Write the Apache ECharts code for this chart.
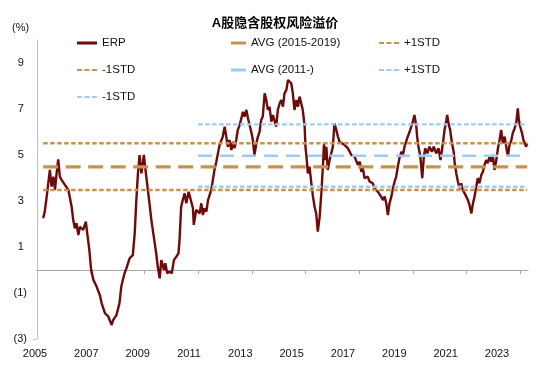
<!DOCTYPE html>
<html><head><meta charset="utf-8">
<script src="https://cdn.jsdelivr.net/npm/echarts@6/dist/echarts.min.js"></script>
<style>html,body{margin:0;padding:0;background:#fff}#c{width:550px;height:373px}</style>
</head><body><div id="c"></div>
<script>
// ---------- data ----------
const chartTitle = 'A股隐含股权风险溢价';
const yUnit = '(%)';
const yearLabels = ['2005','2007','2009','2011','2013','2015','2017','2019','2021','2023'];
const yTickValues = [-3,-1,1,3,5,7,9];
const xTickValues = [2007,2009,2011,2013,2015,2017,2019,2021,2023];
const legendLabels = ['ERP','AVG (2015-2019)','+1STD','-1STD','AVG (2011-)','+1STD','-1STD'];

const erpDates = [
2005.23,2005.29,2005.36,2005.42,2005.48,2005.54,2005.61,2005.67,2005.73,2005.79,2005.85,2005.92,
2006.04,2006.17,2006.23,2006.29,2006.35,2006.41,2006.47,2006.54,2006.60,2006.72,2006.82,2006.87,2006.95,
2007.01,2007.10,2007.22,2007.34,2007.41,2007.53,2007.66,2007.78,2007.84,2007.96,
2008.07,2008.14,2008.26,2008.33,2008.45,2008.57,2008.64,2008.70,2008.76,2008.82,2008.89,2008.98,
2009.07,2009.13,2009.19,2009.26,2009.35,2009.44,2009.50,2009.57,2009.63,2009.73,2009.78,2009.85,2009.94,
2010.02,2010.10,2010.19,2010.27,2010.31,2010.37,2010.43,2010.50,2010.56,2010.65,2010.72,2010.81,2010.84,2010.93,
2011.06,2011.12,2011.18,2011.24,2011.31,2011.37,2011.43,2011.49,2011.55,2011.61,2011.68,2011.74,2011.80,2011.86,2011.92,2011.99,
2012.05,2012.11,2012.17,2012.24,2012.30,2012.36,2012.42,2012.48,2012.55,2012.61,2012.67,2012.73,2012.80,2012.86,2012.92,2012.98,
2013.04,2013.10,2013.17,2013.23,2013.29,2013.35,2013.41,2013.48,2013.54,2013.60,2013.66,2013.73,2013.79,2013.85,2013.91,2013.97,
2014.04,2014.10,2014.16,2014.22,2014.29,2014.35,2014.41,2014.47,2014.53,2014.59,2014.66,2014.72,2014.78,2014.84,2014.90,2014.97,
2015.00,2015.05,2015.09,2015.15,2015.22,2015.28,2015.34,2015.40,2015.46,2015.53,2015.59,2015.65,2015.69,2015.74,2015.78,2015.83,2015.90,2015.96,
2016.02,2016.08,2016.15,2016.21,2016.27,2016.33,2016.46,2016.58,2016.71,2016.83,2016.95,
2017.02,2017.08,2017.14,2017.20,2017.32,2017.39,2017.51,2017.57,2017.70,2017.82,2017.88,2017.95,
2018.01,2018.07,2018.13,2018.20,2018.26,2018.32,2018.38,2018.44,2018.50,2018.57,2018.63,2018.69,2018.75,2018.81,2018.88,2018.94,
2019.00,2019.06,2019.13,2019.16,2019.21,2019.28,2019.35,2019.41,2019.46,2019.54,2019.62,2019.71,2019.78,2019.87,2019.96,
2020.03,2020.12,2020.18,2020.24,2020.28,2020.34,2020.39,2020.45,2020.52,2020.56,2020.62,2020.68,2020.74,2020.80,2020.86,2020.93,2020.99,
2021.05,2021.11,2021.18,2021.24,2021.30,2021.36,2021.42,2021.48,2021.55,2021.61,2021.67,2021.73,2021.79,2021.86,2021.92,2021.98,
2022.04,2022.11,2022.17,2022.23,2022.29,2022.35,2022.42,2022.48,2022.54,2022.60,2022.67,2022.72,2022.79,2022.85,2022.91,2022.95,
2023.00,2023.07,2023.12,2023.17,2023.22,2023.26
];
const erpValues = [
2.25,2.54,3.19,3.78,4.35,3.62,4.06,3.48,4.20,4.81,4.06,3.91,
3.70,3.48,3.40,2.75,2.17,1.81,2.03,1.52,1.88,1.74,2.10,1.60,0.87,
0.07,-0.43,-0.72,-1.09,-1.45,-1.88,-2.03,-2.39,-2.17,-1.96,
-1.45,-0.72,-0.14,0.07,0.51,0.65,1.60,3.04,4.20,5.00,4.20,5.00,
4.06,3.48,2.90,2.17,1.45,0.72,0.14,-0.36,0.43,0.00,0.29,-0.14,-0.07,
-0.14,0.43,0.58,0.72,1.30,2.75,3.04,3.33,2.90,3.40,3.33,2.68,1.96,2.61,
2.46,2.90,2.39,2.68,2.54,3.04,3.26,3.48,3.91,4.35,4.71,5.07,5.43,5.36,5.80,6.23,
5.80,5.36,5.65,5.22,5.58,5.29,5.65,6.09,6.30,6.59,6.88,6.67,6.96,6.59,6.30,6.01,
5.65,5.00,5.51,5.80,6.01,6.52,6.67,7.68,7.39,6.96,7.10,6.45,6.74,6.67,6.23,6.96,
7.25,7.39,7.10,7.68,7.83,8.26,8.33,8.12,7.68,6.96,7.39,7.10,7.54,7.25,6.96,6.23,
5.36,4.78,4.20,4.49,3.77,3.19,2.75,2.46,1.67,2.32,3.33,4.49,5.51,4.78,5.36,4.35,4.78,5.07,
5.36,6.38,6.09,5.80,5.58,5.65,5.43,5.29,5.00,4.93,4.57,
4.71,4.27,4.42,3.99,4.06,3.84,3.77,3.55,3.40,3.19,3.04,3.19,
2.90,2.39,2.90,3.19,3.55,3.84,4.06,4.49,4.86,5.14,5.00,5.36,5.58,5.80,6.01,6.23,
6.45,6.74,6.23,5.80,5.36,4.93,3.99,4.93,5.29,5.07,5.36,5.14,5.36,5.07,5.29,
4.78,5.51,6.09,6.45,6.74,6.30,6.09,5.58,5.14,4.64,4.20,3.84,3.55,3.77,3.48,3.33,3.19,
3.04,2.83,2.46,2.90,3.19,3.62,3.99,3.77,4.13,4.27,4.57,4.78,4.64,4.93,4.71,5.00,
4.35,4.78,5.29,5.65,6.09,5.51,5.80,5.36,4.93,5.43,5.65,5.94,6.16,6.38,7.03,6.52,
6.23,5.94,5.65,5.51,5.36,5.51
];

const brownRange = [2005.23, 2023.26];
const brownAvg = 4.48, brownPlus = 5.51, brownMinus = 3.48;
const blueRange = [2011.0, 2023.26];
const blueAvg = 4.97, bluePlus = 6.33, blueMinus = 3.62;

// ---------- styles ----------
const C_ERP = '#6E0A0A', C_BROWN = '#C8924B', C_BLUE = '#9DCBF7';
const FONT = 'Arial, "Liberation Sans", "Noto Sans CJK SC", sans-serif';
const DASH_ICON = 'path://M0,0h5v2h-5zM7.5,0h5v2h-5zM15,0h5v2h-5z';

function hline(range, v) { return [[range[0], v], [range[1], v]]; }

const seriesDefs = [
  { data: erpDates.map((d, i) => [d, erpValues[i]]), color: C_ERP, width: 2.4, type: 'solid', icon: 'rect', iw: 20 },
  { data: hline(brownRange, brownAvg), color: C_BROWN, width: 3.2, type: [15, 7.5], icon: 'rect', iw: 15 },
  { data: hline(brownRange, brownPlus), color: C_BROWN, width: 2.4, type: [4.5, 2.5], icon: DASH_ICON, iw: 20 },
  { data: hline(brownRange, brownMinus), color: C_BROWN, width: 2.4, type: [4.5, 2.5], icon: DASH_ICON, iw: 20 },
  { data: hline(blueRange, blueAvg), color: C_BLUE, width: 2.4, type: [14, 8], icon: 'rect', iw: 15 },
  { data: hline(blueRange, bluePlus), color: C_BLUE, width: 2.4, type: [4.5, 2.5], icon: DASH_ICON, iw: 20 },
  { data: hline(blueRange, blueMinus), color: C_BLUE, width: 2.4, type: [4.5, 2.5], icon: DASH_ICON, iw: 20 }
];
const legendPos = [[77,43],[231,43],[379,43],[77,70],[231,70],[379,70],[77,97]];

const series = seriesDefs.map((s, i) => ({
  name: 's' + i,
  type: 'line',
  xAxisIndex: 0, yAxisIndex: 0,
  data: s.data,
  showSymbol: false, symbol: 'none',
  lineStyle: { color: s.color, width: s.width, type: s.type, cap: 'butt' },
  itemStyle: { color: s.color },
  z: i === 0 ? 2 : 3,
  silent: true
}));

const legends = seriesDefs.map((s, i) => ({
  data: [{ name: 's' + i, icon: s.icon }],
  left: legendPos[i][0], top: legendPos[i][1] - 7,
  padding: 0,
  itemWidth: s.iw, itemHeight: s.icon === 'rect' ? 3 : 2.5,
  itemStyle: { color: s.color },
  formatter: () => legendLabels[i],
  textStyle: { fontFamily: FONT, fontSize: 11.5, color: '#111', lineHeight: 14 },
  selectedMode: false
}));

const chart = echarts.init(document.getElementById('c'), null, { renderer: 'canvas' });
chart.setOption({
  animation: false,
  backgroundColor: '#fff',
  title: [
    { text: chartTitle, left: 'center', top: 17, padding: 0,
      textStyle: { fontFamily: FONT, fontSize: 13, fontWeight: 'bold', color: '#000' } },
    { text: yUnit, left: 12, top: 22, padding: 0,
      textStyle: { fontFamily: FONT, fontSize: 11, fontWeight: 'normal', color: '#111' } }
  ],
  legend: legends,
  grid: [
    { left: 37, right: 22, top: 40, bottom: 34, containLabel: false },
    { left: 35, right: 53, top: 339, height: 1, containLabel: false }
  ],
  xAxis: [
    { gridIndex: 0, type: 'value', min: 2005, max: 2023.29,
      axisLine: { show: true, onZero: true, lineStyle: { color: '#A6A6A6', width: 1 } },
      axisTick: { show: true, customValues: xTickValues, length: 4, lineStyle: { color: '#A6A6A6' } },
      axisLabel: { show: false }, splitLine: { show: false } },
    { gridIndex: 1, type: 'category', data: yearLabels, boundaryGap: false,
      axisLine: { show: false }, axisTick: { show: false },
      axisLabel: { interval: 0, margin: 8, fontFamily: FONT, fontSize: 11, color: '#111' },
      splitLine: { show: false } }
  ],
  yAxis: [
    { gridIndex: 0, type: 'value', min: -3, max: 10, interval: 1,
      axisLine: { show: true, lineStyle: { color: '#BFBFBF', width: 1 } },
      axisTick: { show: true, customValues: [-3], length: 4, lineStyle: { color: '#BFBFBF' } },
      axisLabel: { customValues: yTickValues, margin: 10, fontFamily: FONT, fontSize: 11, color: '#111',
        formatter: v => v < 0 ? '(' + (-v) + ')' : v + ' ' },
      splitLine: { show: false } },
    { gridIndex: 1, type: 'value', show: false }
  ],
  series: series
});
</script></body></html>
